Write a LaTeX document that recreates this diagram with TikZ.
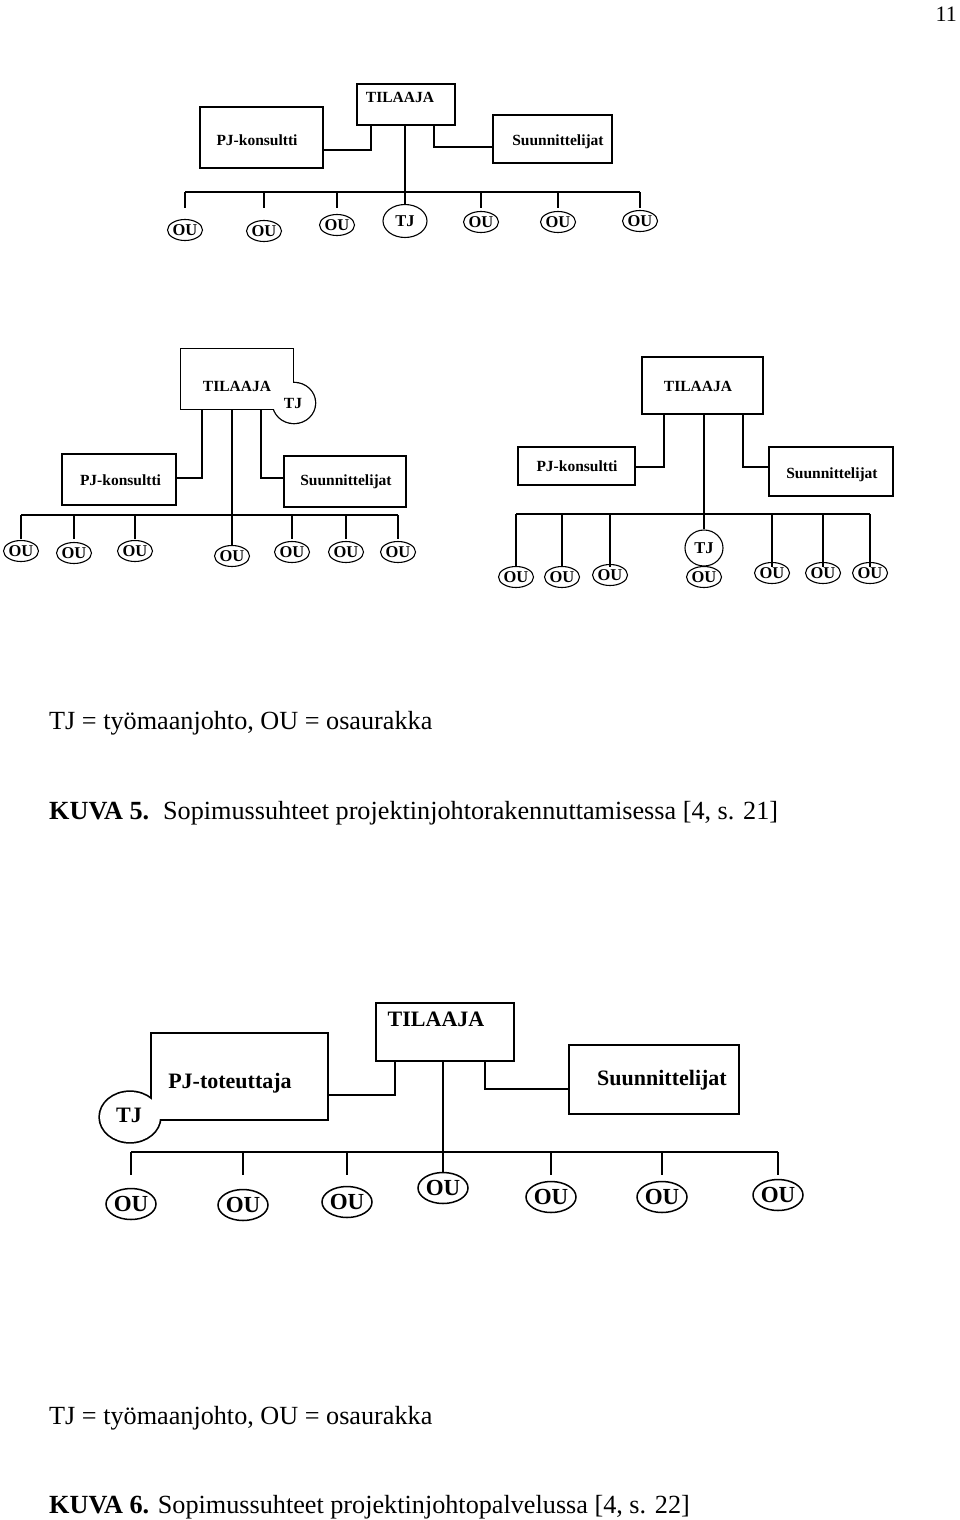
\documentclass[tikz,border=0pt]{standalone}
\usepackage{fontspec}
\setmainfont{Liberation Serif}
\usetikzlibrary{shapes.geometric}
\begin{document}
\begin{tikzpicture}[x=1pt,y=-1pt,
  ln/.style={line width=1.1pt},
  lnb/.style={line width=1.5pt},
  boxs/.style={draw, line width=1.1pt, inner sep=0pt},
  boxsx/.style={draw, line width=2.6pt, inner sep=0pt, outer sep=0pt},
  boxb/.style={draw, line width=1.5pt, inner sep=0pt},
  boxbx/.style={draw, line width=3.4pt, inner sep=0pt, outer sep=0pt},
  txts/.style={inner sep=0pt, anchor=base, font=\fontsize{15.5}{18}\selectfont\bfseries},
  txtb/.style={inner sep=0pt, anchor=base, font=\fontsize{22}{26}\selectfont\bfseries},
  ous/.style={draw, ellipse, line width=1.1pt, inner sep=0pt, minimum width=34pt, minimum height=21pt, font=\fontsize{16.5}{19}\selectfont\bfseries},
  oub/.style={draw, ellipse, line width=1.5pt, inner sep=0pt, minimum width=50pt, minimum height=31pt, font=\fontsize{23}{27}\selectfont\bfseries},
  capt/.style={inner sep=0pt, anchor=base west, font=\fontsize{26.2}{30}\selectfont}]
\useasboundingbox (0,0) rectangle (960,1520);
\node[anchor=base east, inner sep=0pt, font=\fontsize{22}{26}\selectfont] (pg) at (957,22) {11};

% ---------------- Diagram 1
\node[boxs, minimum width=98pt, minimum height=41pt] (T1) at (406,104.5) {};
\node[txts] (T1t) at (400,102) {TILAAJA};
\node[boxs, minimum width=123pt, minimum height=61pt] (P1) at (261.5,137.5) {};
\node[txts] (P1t) at (257,145) {PJ-konsultti};
\node[boxs, minimum width=119pt, minimum height=48pt] (S1) at (552.5,139) {};
\node[txts] (S1t) at (558,145) {Suunnittelijat};
\draw[ln] ([xshift=-35pt]T1.south) |- ([yshift=-12.5pt]P1.east);
\draw[ln] ([xshift=28pt]T1.south) |- ([yshift=-8pt]S1.west);
\node[ous, minimum width=44pt, minimum height=33pt] (J1) at (405,221) {TJ};
\draw[ln] ([xshift=-1pt]T1.south) -- (J1.north);
\coordinate (b1L) at (185,192);
\coordinate (b1R) at (640,192);
\coordinate (e1) at (0,208);
\draw[ln] (b1L) -- (b1R);
\node[ous] (o11) at (185,230) {OU};
\node[ous] (o12) at (264,231) {OU};
\node[ous] (o13) at (337,225) {OU};
\node[ous] (o15) at (481,222) {OU};
\node[ous] (o16) at (558,222) {OU};
\node[ous] (o17) at (640,221) {OU};
\foreach \n in {o11,o12,o13,o15,o16,o17} \draw[ln] (\n |- b1L) -- (\n |- e1);

% ---------------- Diagram 2 left
\node[boxsx, minimum width=112pt, minimum height=60pt] (T2) at (237,379) {};
\node[draw, ellipse, line width=2.6pt, inner sep=0pt, outer sep=0pt, minimum width=42pt, minimum height=40pt] (J2) at (294,403) {};
\fill[white] (T2.south west) rectangle (T2.north east);
\fill[white] (J2.center) ellipse [x radius=21pt, y radius=20pt];
\node[txts] (T2t) at (237,391) {TILAAJA};
\node[txts] (J2t) at (293,408) {TJ};
\node[boxs, minimum width=114pt, minimum height=51pt] (P2) at (119,479.5) {};
\node[txts] (P2t) at (120.5,485) {PJ-konsultti};
\node[boxs, minimum width=122pt, minimum height=51pt] (S2) at (345,481.5) {};
\node[txts] (S2t) at (346,485) {Suunnittelijat};
\draw[ln] ([xshift=-35pt]T2.south) |- ([yshift=1.5pt]P2.east);
\draw[ln] ([xshift=24pt]T2.south) |- ([yshift=3.5pt]S2.west);
\node[ous] (a1) at (21,551) {OU};
\node[ous] (a2) at (74,553) {OU};
\node[ous] (a3) at (135,551) {OU};
\node[ous] (a4) at (232,556) {OU};
\node[ous] (a5) at (292,552) {OU};
\node[ous] (a6) at (346,552) {OU};
\node[ous] (a7) at (398,552) {OU};
\draw[ln] ([xshift=-5pt]T2.south) -- (a4.north);
\coordinate (b2L) at (21,515);
\coordinate (b2R) at (398,515);
\coordinate (e2) at (0,539);
\draw[ln] (b2L) -- (b2R);
\foreach \n in {a1,a2,a3,a5,a6,a7} \draw[ln] (\n |- b2L) -- (\n |- e2);

% ---------------- Diagram 2 right
\node[boxs, minimum width=121pt, minimum height=57pt] (T3) at (702.5,385.5) {};
\node[txts] (T3t) at (698,391) {TILAAJA};
\node[boxs, minimum width=117pt, minimum height=38pt] (P3) at (576.5,466) {};
\node[txts] (P3t) at (577,471) {PJ-konsultti};
\node[boxs, minimum width=124pt, minimum height=49pt] (S3) at (831,471.5) {};
\node[txts] (S3t) at (832,478) {Suunnittelijat};
\draw[ln] ([xshift=-38.5pt]T3.south) |- ([yshift=-1pt]P3.east);
\draw[ln] ([xshift=40.5pt]T3.south) |- ([yshift=4.5pt]S3.west);
\node[ous] (c1) at (516,577) {OU};
\node[ous] (c2) at (562,577) {OU};
\node[ous] (c3) at (610,575) {OU};
\node[ous] (c4) at (704,577) {OU};
\node[ous] (c5) at (772,573) {OU};
\node[ous] (c6) at (823,573) {OU};
\node[ous] (c7) at (870,573) {OU};
\node[ous, fill=white, minimum width=38pt, minimum height=36pt] (J3) at (704,548) {TJ};
\draw[ln] ([xshift=1.5pt]T3.south) -- (J3.north);
\coordinate (b3L) at (516,514);
\coordinate (b3R) at (870,514);
\coordinate (e3) at (0,567);
\draw[ln] (b3L) -- (b3R);
\foreach \n in {c1,c2,c3,c5,c6,c7} \draw[ln] (\n |- b3L) -- (\n |- e3);

% ---------------- Diagram 3
\node[boxb, minimum width=138pt, minimum height=58pt] (T4) at (445,1032) {};
\node[txtb] (T4t) at (436,1026) {TILAAJA};
\node[boxbx, minimum width=175pt, minimum height=85pt] (P4) at (239.5,1076.5) {};
\node[draw, ellipse, line width=3.4pt, inner sep=0pt, outer sep=0pt, minimum width=60pt, minimum height=50pt] (J4) at (130,1117) {};
\fill[white] (P4.south west) rectangle (P4.north east);
\fill[white] (J4.center) ellipse [x radius=30pt, y radius=25pt];
\node[txtb] (P4t) at (230,1088) {PJ-toteuttaja};
\node[txtb] (J4t) at (129,1122) {TJ};
\node[boxb, minimum width=170pt, minimum height=69pt] (S4) at (654,1079.5) {};
\node[txtb] (S4t) at (662,1085) {Suunnittelijat};
\draw[lnb] ([xshift=-50pt]T4.south) |- ([yshift=-18.5pt]P4.east);
\draw[lnb] ([xshift=40pt]T4.south) |- ([yshift=-9.5pt]S4.west);
\node[oub] (d1) at (131,1204) {OU};
\node[oub] (d2) at (243,1205) {OU};
\node[oub] (d3) at (347,1202) {OU};
\node[oub] (d4) at (443,1188) {OU};
\node[oub] (d5) at (551,1197) {OU};
\node[oub] (d6) at (662,1197) {OU};
\node[oub] (d7) at (778,1195) {OU};
\draw[lnb] ([xshift=-2pt]T4.south) -- (d4.north);
\coordinate (b4L) at (131,1152);
\coordinate (b4R) at (778,1152);
\coordinate (e4) at (0,1175);
\draw[lnb] (b4L) -- (b4R);
\foreach \n in {d1,d2,d3,d5,d6,d7} \draw[lnb] (\n |- b4L) -- (\n |- e4);

% ---------------- Captions
\node[capt] (cap1) at (49,729) {TJ = työmaanjohto, OU = osaurakka};
\node[capt] (cap2) at (49,819) {\textbf{KUVA 5.}\hspace{14pt}Sopimussuhteet projektinjohtorakennuttamisessa [4, s. 21]};
\node[capt] (cap3) at (49,1424) {TJ = työmaanjohto, OU = osaurakka};
\node[capt] (cap4) at (49,1513) {\textbf{KUVA 6.} Sopimussuhteet projektinjohtopalvelussa [4, s. 22]};
\end{tikzpicture}
\end{document}
